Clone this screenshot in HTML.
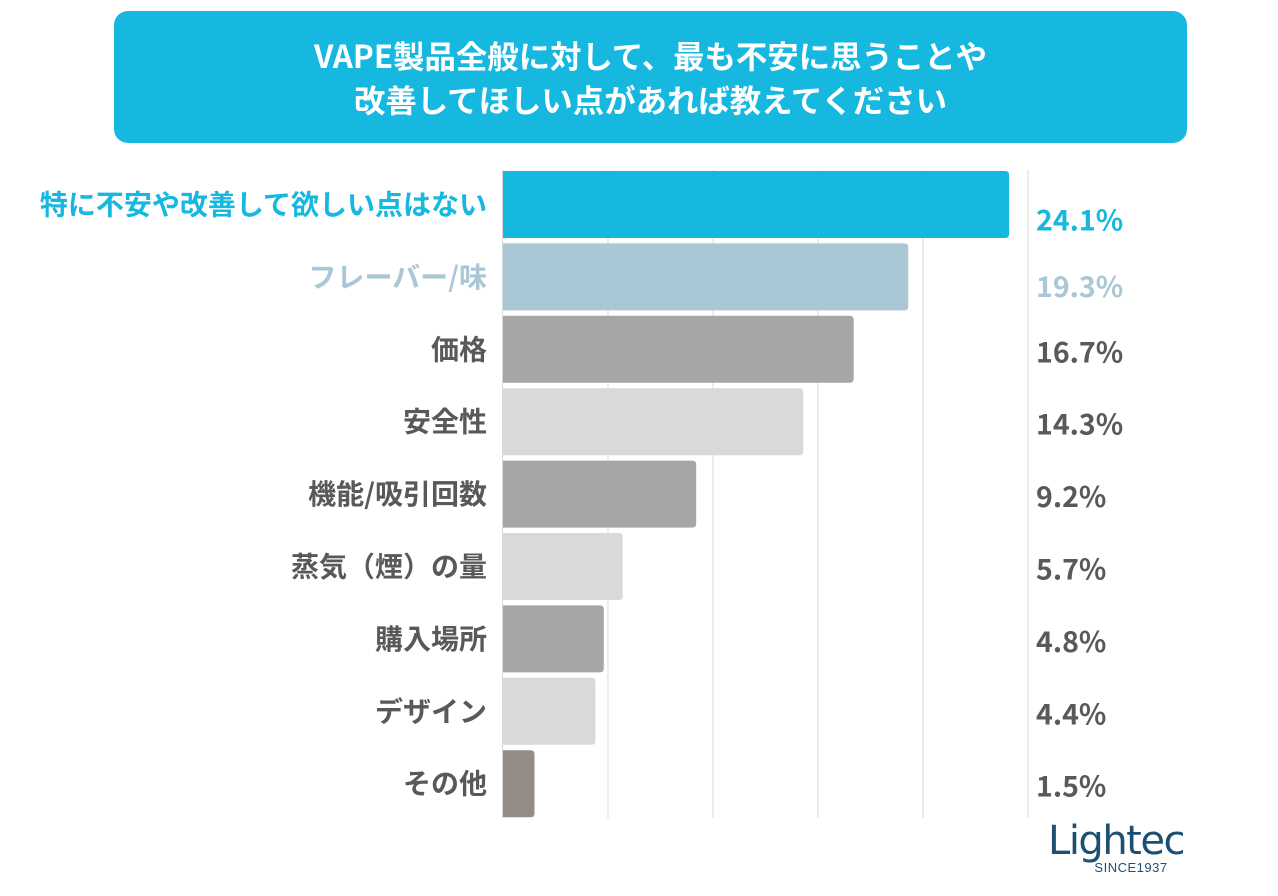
<!DOCTYPE html>
<html><head><meta charset="utf-8">
<style>
body{margin:0;width:1278px;height:896px;background:#fff;font-family:"Noto Sans CJK JP","Liberation Sans",sans-serif;overflow:hidden;position:relative}
.title{position:absolute;left:114px;top:11px;width:1073px;height:132px;background:#17b8e0;border-radius:14px;color:#fff;font-weight:bold;font-size:31.4px;text-align:center;line-height:44px;box-sizing:border-box;padding-top:23px}
</style></head><body>
<div class="title">VAPE製品全般に対して、最も不安に思うことや<br>改善してほしい点があれば教えてください</div>
<svg id="chart" width="1278" height="896" style="position:absolute;left:0;top:0"></svg>
<div style="position:absolute;left:1046px;top:820px;width:140px;text-align:center;color:#1d4f73">
<div style="font-size:40px;line-height:42px;font-family:'DejaVu Sans',sans-serif;letter-spacing:-1.5px">Lightec</div>
<div style="font-size:13px;line-height:12px;margin-left:30px;letter-spacing:0.5px;font-family:'Liberation Sans',sans-serif">SINCE1937</div>
</div>
<script>
const categories=["特に不安や改善して欲しい点はない","フレーバー/味","価格","安全性","機能/吸引回数","蒸気（煙）の量","購入場所","デザイン","その他"];
const values=[24.1,19.3,16.7,14.3,9.2,5.7,4.8,4.4,1.5];
const valueLabels=["24.1%","19.3%","16.7%","14.3%","9.2%","5.7%","4.8%","4.4%","1.5%"];
const gridTicks=[5,10,15,20,25];
const colors=["#16b8e0","#a9c7d5","#a6a6a6","#d9d9d9","#a6a6a6","#d9d9d9","#a6a6a6","#d9d9d9","#958b85"];
const textColors=["#16b8e0","#a9c7d5","#595959","#595959","#595959","#595959","#595959","#595959","#595959"];
const svg=document.getElementById('chart');
const NS="http://www.w3.org/2000/svg";
const x0=503,pxPer=21,top0=171,pitch=72.4,bh=67;
const x=v=>x0+v*pxPer;
const y=i=>top0+i*pitch;
function mk(t,a){const e=document.createElementNS(NS,t);for(const k in a)e.setAttribute(k,a[k]);svg.appendChild(e);return e;}
gridTicks.forEach(t=>{const l=mk('line',{x1:x(t),x2:x(t),y1:170,y2:818,stroke:'#d9d9d9','stroke-width':1});

});
const ax=mk('line',{x1:502.5,x2:502.5,y1:170,y2:818,stroke:'#d9d9d9','stroke-width':1});


categories.forEach((c,i)=>{
 const w=x(values[i])-x0,r=4,yy=y(i);
 const p=mk('path',{d:`M${x0},${yy}H${x0+w-r}Q${x0+w},${yy} ${x0+w},${yy+r}V${yy+bh-r}Q${x0+w},${yy+bh} ${x0+w-r},${yy+bh}H${x0}Z`,fill:colors[i]});
 
 
 const t=mk('text',{x:487,y:yy+bh/2+10,'text-anchor':'end','font-size':'28','font-weight':'bold',fill:textColors[i]});
 t.textContent=c;
 
 
 const v=mk('text',{x:1036,y:yy+bh/2+(i==0?26:i==1?20:13),'font-size':'28.5','font-weight':'bold',fill:textColors[i]});
 v.textContent=valueLabels[i];
 
 
});
</script>
</body></html>
